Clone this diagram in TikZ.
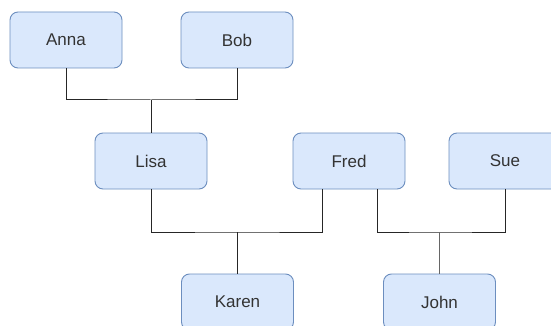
\documentclass[tikz,border=0pt]{standalone}
\usepackage{fontspec}
\setmainfont{Liberation Sans}
\definecolor{cajafondo}{HTML}{DAE8FC}
\definecolor{cajaborde}{HTML}{6C8EBF}
\definecolor{texto}{HTML}{333333}
\tikzset{
  persona/.style={draw=cajaborde, fill=cajafondo, rounded corners=8pt,
    minimum width=112pt, minimum height=56pt, line width=0.9pt,
    text=texto, font=\fontsize{17}{20}\selectfont},
  linea/.style={draw=black!85, line width=1pt}
}
\begin{document}
\begin{tikzpicture}[x=1pt,y=-1pt]
            % Marco del dibujo
            \clip (0,0) rectangle (551,326);
            \fill[white] (0,0) rectangle (551,326);

            % Primera generacion
            \node[persona] (anna) at (66,40) {Anna};
            \node[persona] (bob) at (237,40) {Bob};
            % Segunda generacion
            \node[persona] (lisa) at (151,161) {Lisa};
            \node[persona] (fred) at (349,161) {Fred};
            \node[persona] (sue) at (505,161) {Sue};
            % Tercera generacion
            \node[persona] (karen) at (237.5,302) {Karen};
            \node[persona] (john) at (439.5,302) {John};

            % Uniones
            \coordinate (ab) at (151,100);
            \coordinate (lf) at (237.5,232);
            \coordinate (fs) at (439.5,232);
            \coordinate (fredizq) at ([xshift=-27pt]fred.south);
            \coordinate (fredder) at ([xshift=28pt]fred.south);

            % Anna y Bob
            \draw[linea] (anna.south) |- (ab) -| (bob.south);
            \draw[linea] (ab) -- (lisa.north);
            % Lisa y Fred
            \draw[linea] (lisa.south) |- (lf) -| (fredizq);
            \draw[linea] (lf) -- (karen.north);
            % Fred y Sue
            \draw[linea] (fredder) |- (fs) -| (sue.south);
            \draw[linea, black!60] (fs) -- (john.north);
\end{tikzpicture}
\end{document}
